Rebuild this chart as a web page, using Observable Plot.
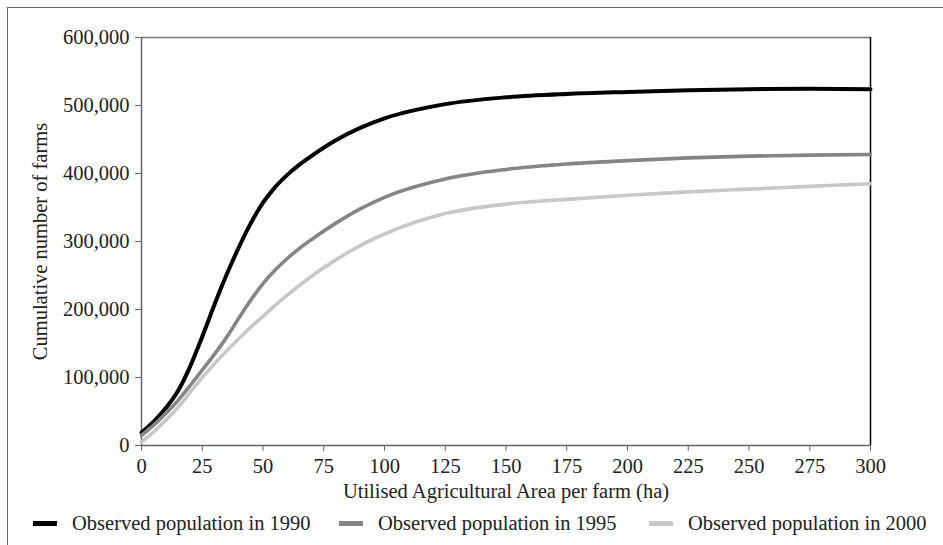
<!DOCTYPE html>
<html>
<head>
<meta charset="utf-8">
<script src="https://cdn.jsdelivr.net/npm/d3@7"></script>
<script src="https://cdn.jsdelivr.net/npm/@observablehq/plot@0.6"></script>
<style>
html, body { margin: 0; padding: 0; background: #fff; }
#wrap { position: relative; width: 943px; height: 545px; overflow: hidden; font-family: "Liberation Serif", "DejaVu Serif", serif; }
#frame { position: absolute; left: 7px; top: 7px; width: 1000px; height: 600px; border-top: 1.5px solid #666; border-left: 1.5px solid #666; }
#chart { position: absolute; left: 0; top: 0; }
#legend { position: absolute; left: 0; top: 508px; width: 943px; height: 30px; }
.item { position: absolute; top: 0; height: 30px; display: flex; align-items: center; font-size: 20.5px; color: #222; white-space: nowrap; }
.sw { width: 24px; height: 5px; margin-right: 15px; }
</style>
</head>
<body>
<div id="wrap">
  <div id="frame"></div>
  <div id="chart"></div>
  <div id="legend"></div>
</div>
<script>
// Utilised Agricultural Area per farm (ha)
const area = [0, 5, 10, 15, 20, 25, 30, 35, 40, 45, 50, 55, 60, 65, 70, 80, 90, 100, 125, 150, 175, 200, 225, 250, 275, 300];
// Cumulative number of farms
const farms1990 = [19000, 35000, 55000, 80000, 116000, 160000, 207000, 251000, 291000, 327000, 357000, 380000, 398000, 413000, 426000, 449000, 467000, 481000, 502000, 512000, 517000, 520000, 522500, 524000, 524500, 524000];
const farms1995 = [15000, 30000, 47000, 66000, 88000, 111000, 134000, 159000, 187000, 214000, 238000, 258000, 275000, 290000, 303000, 327000, 348000, 365000, 392000, 406000, 414000, 419000, 423000, 425500, 427000, 428000];
const farms2000 = [5000, 20000, 37000, 56000, 78000, 100000, 120000, 139000, 157000, 174000, 190000, 206000, 221000, 235500, 249000, 273000, 294000, 311000, 341000, 355000, 362000, 368000, 373000, 377000, 381000, 385000];

const seriesNames = ["Observed population in 1990", "Observed population in 1995", "Observed population in 2000"];
const seriesColors = ["#000000", "#858585", "#c8c8c8"];
const seriesValues = [farms1990, farms1995, farms2000];
const seriesWidths = [4, 3.6, 3.6];

const xTicks = [0, 25, 50, 75, 100, 125, 150, 175, 200, 225, 250, 275, 300];
const yTicks = [0, 100000, 200000, 300000, 400000, 500000, 600000];
const xLabel = "Utilised Agricultural Area per farm (ha)";
const yLabel = "Cumulative number of farms";

const font = "'Liberation Serif', 'DejaVu Serif', serif";
const fs = 20.5;

const lines = seriesValues.map((vals, i) =>
  Plot.line(area, { x: area, y: vals, stroke: seriesColors[i], strokeWidth: seriesWidths[i], curve: "monotone-x" })
);

const chart = Plot.plot({
  width: 943,
  height: 505,
  marginLeft: 141,
  marginRight: 73,
  marginTop: 37,
  marginBottom: 60,
  style: { fontFamily: font, fontSize: fs + "px", background: "transparent", color: "#222" },
  x: { domain: [0, 300] },
  y: { domain: [0, 600000] },
  marks: [
    Plot.axisX({ ticks: xTicks, tickSize: 6, tickPadding: 7, label: null, stroke: "#666", fill: "#222", fontSize: fs }),
    Plot.axisY({ ticks: yTicks, tickSize: 6, tickPadding: 6, tickFormat: d3.format(","), label: null, stroke: "#666", fill: "#222", fontSize: fs }),
    Plot.ruleY([600000], { stroke: "#777", strokeWidth: 1.5 }),
    Plot.ruleX([300], { stroke: "#000", strokeWidth: 1.5 }),
    Plot.ruleY([0], { stroke: "#666", strokeWidth: 1.5 }),
    Plot.ruleX([0], { stroke: "#666", strokeWidth: 1.5 }),
    ...lines,
    Plot.text([xLabel], { text: d => d, frameAnchor: "bottom", dy: 46, lineAnchor: "middle", textAnchor: "middle", fontSize: fs, fill: "#222" }),
    Plot.text([yLabel], { text: d => d, frameAnchor: "left", dx: -101, rotate: -90, lineAnchor: "middle", textAnchor: "middle", fontSize: fs, fill: "#222" })
  ]
});
document.getElementById("chart").appendChild(chart);

const legendLefts = [33, 339, 649];
const legend = document.getElementById("legend");
seriesNames.forEach((name, i) => {
  const item = document.createElement("div");
  item.className = "item";
  item.style.left = legendLefts[i] + "px";
  const sw = document.createElement("span");
  sw.className = "sw";
  sw.style.background = seriesColors[i];
  const t = document.createElement("span");
  t.textContent = name;
  item.appendChild(sw);
  item.appendChild(t);
  legend.appendChild(item);
});
</script>
</body>
</html>
